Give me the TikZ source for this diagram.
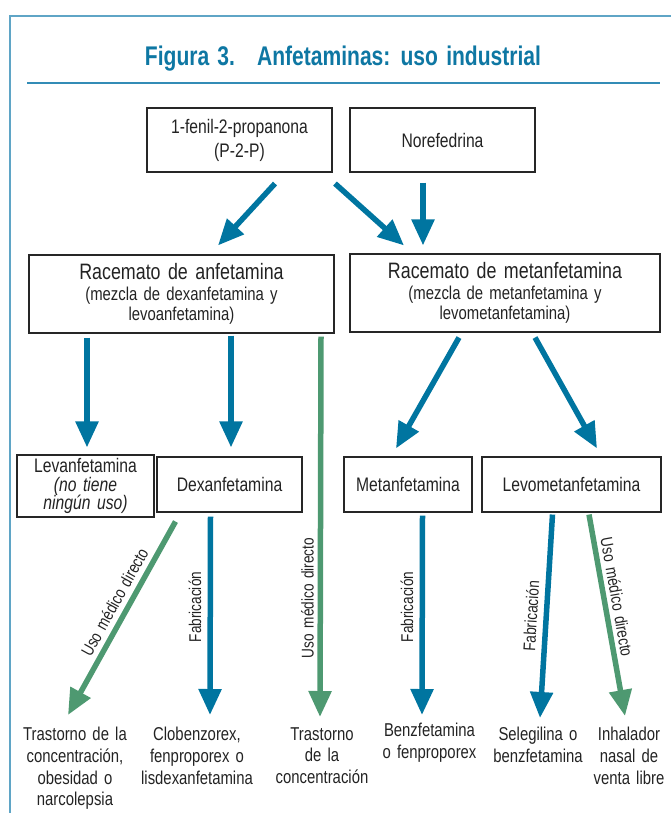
\documentclass[tikz,border=0pt]{standalone}
\usepackage{fontspec}
\setmainfont[FakeStretch=0.8,WordSpace=1.5]{Liberation Sans}
\newfontfamily\titlefont[FakeStretch=0.78,WordSpace=1.4]{Liberation Sans}
\usetikzlibrary{arrows.meta,calc}
\definecolor{arrblue}{RGB}{0,117,160}
\definecolor{arrgreen}{RGB}{78,153,113}
\definecolor{titleblue}{RGB}{14,119,163}
\definecolor{framecol}{RGB}{95,165,198}
\definecolor{rulecol}{RGB}{50,140,182}
\definecolor{txt}{RGB}{35,35,35}
\begin{document}
\begin{tikzpicture}[x=1pt,y=1pt,
  box/.style={draw=black!85, line width=1.1pt, inner sep=0pt, align=center,
    font=\fontsize{19.6}{24}\selectfont, text=txt},
  barr/.style={draw=arrblue, line width=5.5pt, -{Triangle[width=22pt,length=26pt]}},
  garr/.style={draw=arrgreen, line width=5.5pt, -{Triangle[width=22pt,length=26pt]}},
  lab/.style={font=\fontsize{17}{18}\selectfont, inner sep=0pt, text=txt},
  res/.style={align=center, anchor=north, inner sep=0pt,
    font=\fontsize{18.6}{21.7}\selectfont, text=txt}]
\useasboundingbox (0,0) rectangle (671,-813);
% frame and title
\draw[framecol, line width=2.2pt] (10,-813) -- (10,-16) -- (671,-16);
\node[font=\titlefont\bfseries\fontsize{27}{30}\selectfont, text=titleblue, anchor=base, inner sep=0pt]
  (title) at (343,-66) {Figura 3.\hspace{22pt}Anfetaminas: uso industrial};
\draw[rulecol, line width=1.6pt] (27,-83) -- (660,-83);
% boxes
\node[box, minimum width=185, minimum height=64] (A) at (239.5,-140) {1-fenil-2-propanona\\(P-2-P)};
\node[box, minimum width=185, minimum height=64] (B) at (442.5,-140) {Norefedrina};
\node[box, minimum width=305, minimum height=78, font=\fontsize{18.6}{20.5}\selectfont]
  (C) at (181.5,-294) {{\fontsize{22.3}{25}\selectfont Racemato de anfetamina}\\(mezcla de dexanfetamina y\\levoanfetamina)};
\node[box, minimum width=310, minimum height=78, font=\fontsize{18.6}{20.5}\selectfont]
  (D) at (505,-293) {{\fontsize{22.3}{25}\selectfont Racemato de metanfetamina}\\(mezcla de metanfetamina y\\levometanfetamina)};
\node[box, minimum width=137, minimum height=62, font=\fontsize{19.6}{18.5}\selectfont]
  (E) at (85.5,-486) {Levanfetamina\\\textit{(no tiene}\\\textit{ningún uso)}};
\node[box, minimum width=145, minimum height=55] (F) at (229.5,-484.5) {Dexanfetamina};
\node[box, minimum width=128, minimum height=55] (G) at (408,-484.5) {Metanfetamina};
\node[box, minimum width=179, minimum height=55] (H) at (571.5,-484.5) {Levometanfetamina};
% results
\node[res] (T1) at (75,-727) {Trastorno de la\\concentración,\\obesidad o\\narcolepsia};
\node[res] (T2) at (197,-727) {Clobenzorex,\\fenproporex o\\lisdexanfetamina};
\node[res] (T3) at (322,-727) {Trastorno\\de la\\concentración};
\node[res] (T4) at (429.5,-723) {Benzfetamina\\o fenproporex};
\node[res] (T5) at (538,-727) {Selegilina o\\benzfetamina};
\node[res] (T6) at (629,-727) {Inhalador\\nasal de\\venta libre};
% arrows
\draw[barr] ($(A.south)+(35.5,-11)$) -- ($(C.north)+(36.5,9)$);
\draw[barr] ($(A.south)+(95.5,-11)$) -- ($(D.north)+(-101,8)$);
\draw[barr] ($(B.south)+(-19.5,-10)$) -- ($(D.north)+(-82,8)$);
\draw[barr] ($(C.south)+(-94.5,-4)$) -- ($(E.north)+(1.5,7)$);
\draw[barr] ($(C.south)+(49.5,-2)$) -- ($(F.north)+(1.5,9)$);
\draw[garr] ($(C.south)+(139.5,-3)$) -- ($(T3.north)+(-2,10)$);
\draw[barr] ($(D.south)+(-46,-5)$) -- ($(G.north)+(-12,8)$);
\draw[barr] ($(D.south)+(30,-5)$) -- ($(H.north)+(25.5,8)$);
\draw[garr] ($(F.south)+(-54,-9)$) -- ($(T1.north)+(-7,12)$);
\draw[barr] ($(F.south)+(-19,-4)$) -- ($(T2.north)+(13,12)$);
\draw[barr] ($(G.south)+(14.5,-3)$) -- ($(T4.north)+(-7.5,8)$);
\draw[barr] ($(H.south)+(-19,-2)$) -- ($(T5.north)+(2,9)$);
\draw[garr] ($(H.south)+(17.5,-2)$) -- ($(T6.north)+(-4,11)$);
% labels
\node[lab, rotate=61] (L1) at (114.5,-602) {Uso médico directo};
\node[lab, rotate=90] (L2) at (195,-607) {Fabricación};
\node[lab, rotate=90] (L3) at (307.5,-598) {Uso médico directo};
\node[lab, rotate=90] (L4) at (407,-607) {Fabricación};
\node[lab, rotate=86.5] (L5) at (531,-616) {Fabricación};
\node[lab, rotate=-80] (L6) at (617,-597) {Uso médico directo};
\end{tikzpicture}
\end{document}
